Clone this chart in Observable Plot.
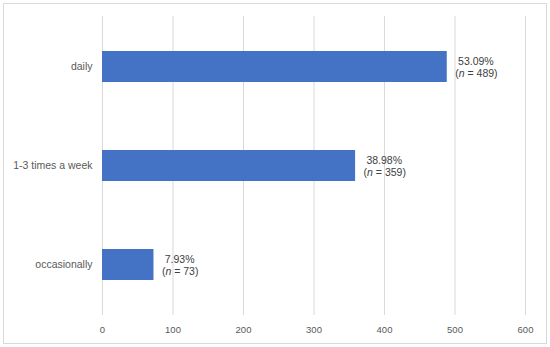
<!DOCTYPE html>
<html>
<head>
<meta charset="utf-8">
<script src="https://cdn.jsdelivr.net/npm/d3@7"></script>
<script src="https://cdn.jsdelivr.net/npm/@observablehq/plot@0.6"></script>
<style>
  html, body { margin: 0; padding: 0; background: #fff; }
  #wrap { position: relative; width: 550px; height: 347px; }
  #frame { position: absolute; left: 3px; top: 3px; width: 542px; height: 339px; border: 1px solid #d9d9d9; pointer-events: none; }
  #chart svg [aria-label^="x-axis"] text { font-size: 9.5px; }
</style>
</head>
<body>
<div id="wrap"><div id="chart"></div><div id="frame"></div></div>
<script>
const categories = ["daily", "1-3 times a week", "occasionally"];
const counts = [489, 359, 73];
const percents = ["53.09%", "38.98%", "7.93%"];
const xTicks = [0, 100, 200, 300, 400, 500, 600];

const rows = categories.map((c, i) => ({
  category: c,
  count: counts[i],
  pct: percents[i],
  nLabel: "(n = " + counts[i] + ")"
}));

const chart = Plot.plot({
  width: 550,
  height: 347,
  marginLeft: 102,
  marginRight: 25,
  marginTop: 16,
  marginBottom: 32,
  style: {
    fontFamily: "'Liberation Sans', Arial, sans-serif",
    fontSize: "10.5px",
    color: "#595959",
    background: "transparent"
  },
  x: {
    domain: [0, 600],
    ticks: xTicks,
    tickSize: 0,
    tickPadding: 11,
    label: null
  },
  y: {
    domain: categories,
    paddingInner: 0.69,
    paddingOuter: 0.345,
    tickSize: 0,
    tickPadding: 10,
    label: null
  },
  marks: [
    Plot.ruleX(xTicks, {stroke: "#d9d9d9", strokeWidth: 1}),
    Plot.barX(rows, {y: "category", x: "count", fill: "#4472C4"}),
    Plot.text(rows, {y: "category", x: "count", text: "pct", textAnchor: "start", dx: 10.8, dy: -5.5, fill: "#404040", fontSize: 10.5}),
    Plot.text(rows, {y: "category", x: "count", text: "nLabel", textAnchor: "start", dx: 8, dy: 6.5, fill: "#404040", fontSize: 10.5})
  ]
});
document.getElementById("chart").appendChild(chart);

// italicize the "n" in the sample-size labels
const svgNS = "http://www.w3.org/2000/svg";
chart.querySelectorAll("text").forEach(t => {
  const s = t.textContent;
  const m = s.match(/^\(n( = \d+\))$/);
  if (!m) return;
  while (t.firstChild) t.removeChild(t.firstChild);
  t.appendChild(document.createTextNode("("));
  const it = document.createElementNS(svgNS, "tspan");
  it.setAttribute("font-style", "italic");
  it.textContent = "n";
  t.appendChild(it);
  t.appendChild(document.createTextNode(m[1]));
});
</script>
</body>
</html>
